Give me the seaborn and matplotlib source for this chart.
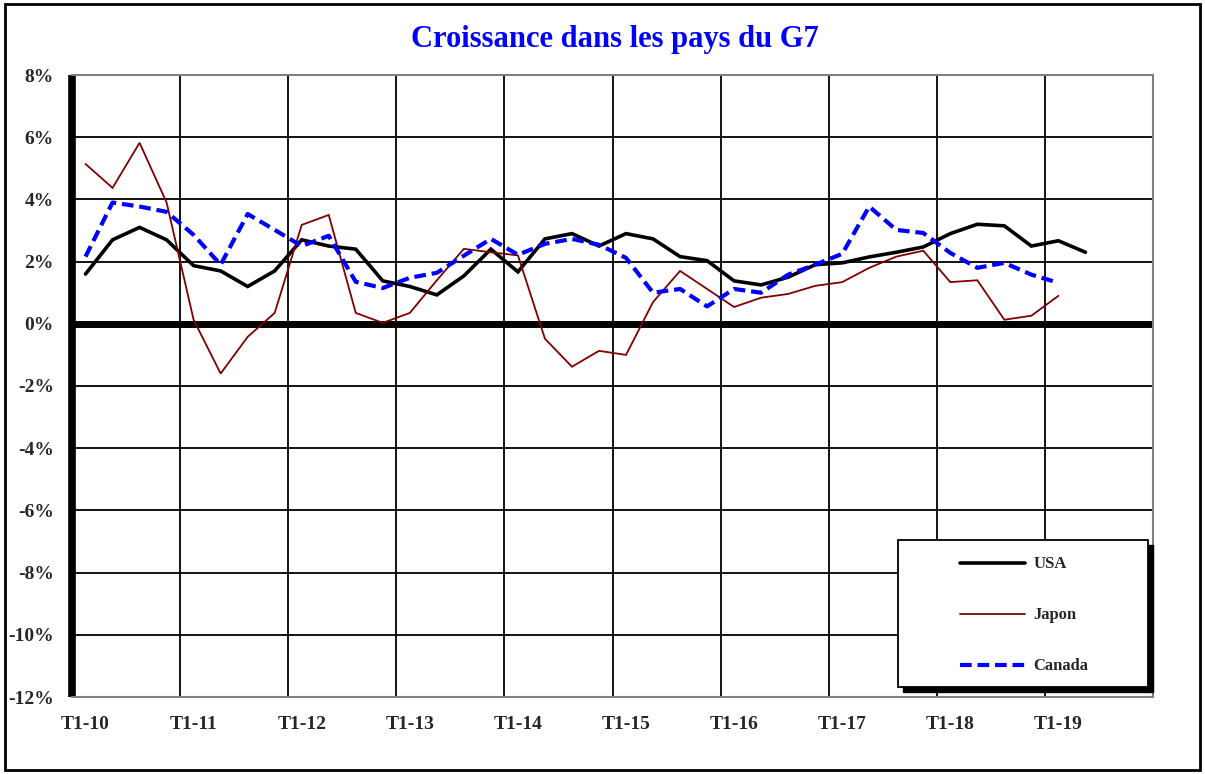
import numpy as np
import pandas as pd
import matplotlib
matplotlib.use("Agg")
import matplotlib.pyplot as plt
import matplotlib.patches as patches
from matplotlib.ticker import FixedLocator
import seaborn as sns

# =========================
# DATA (croissance en %, glissement annuel)
# =========================
years = ["10", "11", "12", "13", "14", "15", "16", "17", "18", "19"]
quarters = ["T%d-%s" % (q, y) for y in years for q in (1, 2, 3, 4)]

usa = [1.6, 2.7, 3.1, 2.7, 1.87, 1.7, 1.2, 1.7, 2.7, 2.5, 2.4, 1.38,
       1.2, 0.93, 1.54, 2.4, 1.67, 2.73, 2.9, 2.5, 2.9, 2.73, 2.16, 2.03,
       1.38, 1.25, 1.5, 1.9, 1.96, 2.15, 2.3, 2.47, 2.9, 3.2, 3.15, 2.5,
       2.67, 2.3]
japon = [5.14, 4.37, 5.82, 3.9, 0.13, -1.6, -0.42, 0.35, 3.18, 3.5, 0.35, 0.03,
         0.35, 1.4, 2.41, 2.3, 2.2, -0.48, -1.38, -0.87, -1.0, 0.7, 1.7, 1.12,
         0.54, 0.84, 0.96, 1.22, 1.34, 1.8, 2.16, 2.35, 1.34, 1.4, 0.13, 0.26,
         0.9]
canada = [2.16, 3.9, 3.77, 3.6, 2.86, 1.9, 3.53, 3.02, 2.5, 2.83, 1.35, 1.15,
          1.48, 1.64, 2.19, 2.73, 2.22, 2.57, 2.73, 2.54, 2.12, 1.0, 1.12, 0.56,
          1.12, 1.0, 1.58, 1.9, 2.25, 3.77, 3.02, 2.92, 2.28, 1.8, 1.96, 1.58,
          1.32]

series = {"USA": usa, "Japon": japon, "Canada": canada}
styles = {
    "USA": dict(color="black", linewidth=2.6, linestyle="-"),
    "Japon": dict(color="#800000", linewidth=1.3, linestyle="-"),
    "Canada": dict(color="#0000FF", linewidth=3.0, linestyle=(0, (2.8, 1.4))),
}

frames = []
for name, vals in series.items():
    frames.append(pd.DataFrame({"pays": name, "idx": np.arange(len(vals)), "valeur": vals}))
df = pd.concat(frames, ignore_index=True)

# =========================
# STYLE
# =========================
sns.set_style("white")
plt.rcParams["font.family"] = ["Liberation Serif", "DejaVu Serif"]
plt.rcParams["font.weight"] = "bold"

fig = plt.figure(figsize=(12.05, 7.74), dpi=100)
ax = fig.add_axes([72 / 1205, 1 - 697 / 774, (1153 - 72) / 1205, (697 - 75) / 774])

for name in series:
    sub = df[df["pays"] == name]
    st = styles[name]
    sns.lineplot(data=sub, x="idx", y="valeur", ax=ax, color=st["color"],
                 linewidth=st["linewidth"], linestyle=st["linestyle"],
                 label=name, legend=False, solid_joinstyle="miter")
for line in ax.get_lines():
    line.set_dash_capstyle("butt")

# axes
ax.set_xlim(-0.5, len(quarters) - 0.5)
ax.set_ylim(-12, 8)
ax.set_xlabel("")
ax.set_ylabel("")

yt = np.arange(-12, 9, 2)
ax.set_yticks(yt)
ax.set_yticklabels(["%d%%" % v for v in yt], fontsize=14, fontweight="bold")
xt = np.arange(0, len(quarters), 4)
ax.set_xticks(xt)
ax.set_xticklabels([quarters[i] for i in xt], fontsize=14, fontweight="bold")
ax.xaxis.set_minor_locator(FixedLocator(np.arange(3.5, len(quarters) - 1, 4)))
ax.tick_params(axis="both", which="both", length=0)
ax.tick_params(axis="y", pad=13)
ax.tick_params(axis="x", pad=14)

ax.grid(False)
ax.grid(axis="x", which="minor", color="black", linewidth=1.3)
ax.grid(axis="y", which="major", color="black", linewidth=1.3)
ax.set_axisbelow(True)
ax.axhline(0, color="black", linewidth=5, zorder=1.5)

for side in ("top", "right", "bottom"):
    ax.spines[side].set_color("#808080")
    ax.spines[side].set_linewidth(1.5)
ax.spines["left"].set_color("black")
ax.spines["left"].set_linewidth(5.5)
ax.spines["left"].set_capstyle("butt")

# title
fig.text(615 / 1205, 1 - 40 / 774, "Croissance dans les pays du G7",
         ha="center", va="center", fontsize=22, fontweight="bold", color="#0000FF")

# legend box with shadow
bx0, by0, bw, bh = 898, 540, 250, 147
fig.patches.append(patches.Rectangle(((bx0 + 5) / 1205, 1 - (by0 + bh + 5) / 774),
                                     bw / 1205, bh / 774, transform=fig.transFigure,
                                     facecolor="black", edgecolor="black", zorder=5))
fig.patches.append(patches.Rectangle((bx0 / 1205, 1 - (by0 + bh) / 774),
                                     bw / 1205, bh / 774, transform=fig.transFigure,
                                     facecolor="white", edgecolor="black",
                                     linewidth=1.3, zorder=6))
leg = fig.legend(handles=ax.get_lines(), labels=list(series.keys()),
                 loc="upper left", bbox_to_anchor=(952 / 1205, 1 - 548 / 774),
                 frameon=False, borderpad=0, handlelength=3.9, handletextpad=0.5,
                 labelspacing=2.1, prop={"size": 12, "weight": "bold"})
leg.set_zorder(7)

# outer border
fig.patches.append(patches.Rectangle((5 / 1205, 4 / 774), 1195 / 1205, 766 / 774,
                                     transform=fig.transFigure, fill=False,
                                     edgecolor="black", linewidth=2))

fig.savefig("out.png", dpi=100)
